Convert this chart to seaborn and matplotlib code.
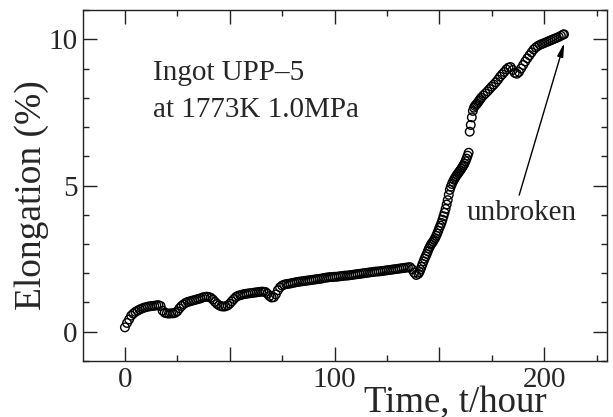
import numpy as np
import pandas as pd
import matplotlib
matplotlib.use('Agg')
import matplotlib.pyplot as plt
from matplotlib.ticker import MultipleLocator, FuncFormatter
import seaborn as sns

# creep test data (time in hours, elongation in %)
hours = [0, 1, 2, 3, 4, 5, 6, 7, 8, 9,
         10, 11, 12, 13, 14, 15, 16, 17, 18, 19,
         20, 21, 22, 23, 24, 25, 26, 27, 28, 29,
         30, 31, 32, 33, 34, 35, 36, 37, 38, 39,
         40, 41, 42, 43, 44, 45, 46, 47, 48, 49,
         50, 51, 52, 53, 54, 55, 56, 57, 58, 59,
         60, 61, 62, 63, 64, 65, 66, 67, 68, 69,
         70, 71, 72, 73, 74, 75, 76, 77, 78, 79,
         80, 81, 82, 83, 84, 85, 86, 87, 88, 89,
         90, 91, 92, 93, 94, 95, 96, 97, 98, 99,
         100, 101, 102, 103, 104, 105, 106, 107, 108, 109,
         110, 111, 112, 113, 114, 115, 116, 117, 118, 119,
         120, 121, 122, 123, 124, 125, 126, 127, 128, 129,
         130, 131, 132, 133, 134, 135, 136, 137, 138, 139,
         140, 140.5, 141, 141.5, 142, 142.5, 143, 143.5, 144, 144.5,
         145, 145.5, 146, 146.5, 147, 147.5, 148, 148.5, 149, 149.5,
         150, 150.5, 151, 151.5, 152, 152.5, 153, 153.5, 154, 154.5,
         155, 155.5, 156, 156.5, 157, 157.5, 158, 158.5, 159, 159.5,
         160, 160.5, 161, 161.5, 162, 162.5, 163, 163.5, 164, 164.5,
         165, 165.5, 166, 166.5, 167, 167.5, 168, 168.5, 169, 169.5,
         170, 171, 172, 173, 174, 175, 176, 177, 178, 179,
         180, 181, 182, 183, 184, 185, 186, 187, 188, 189,
         190, 191, 192, 193, 194, 195, 196, 197, 198, 199,
         200, 201, 202, 203, 204, 205, 206, 207, 208, 209, 209.5]

elongation = [0.15, 0.30, 0.42, 0.55, 0.62, 0.68, 0.72, 0.76, 0.79, 0.82,
              0.84, 0.86, 0.87, 0.88, 0.89, 0.90, 0.91, 0.88, 0.72, 0.65,
              0.63, 0.62, 0.63, 0.63, 0.65, 0.70, 0.80, 0.88, 0.94, 0.99,
              1.02, 1.04, 1.06, 1.08, 1.10, 1.12, 1.14, 1.17, 1.19, 1.20,
              1.19, 1.16, 1.10, 1.02, 0.95, 0.90, 0.87, 0.86, 0.87, 0.90,
              0.96, 1.04, 1.12, 1.19, 1.23, 1.25, 1.27, 1.29, 1.30, 1.31,
              1.32, 1.33, 1.34, 1.35, 1.36, 1.37, 1.37, 1.36, 1.30, 1.22,
              1.17, 1.18, 1.28, 1.42, 1.52, 1.58, 1.61, 1.63, 1.64, 1.65,
              1.67, 1.68, 1.70, 1.71, 1.72, 1.73, 1.74, 1.75, 1.76, 1.77,
              1.78, 1.79, 1.80, 1.81, 1.82, 1.84, 1.85, 1.86, 1.87, 1.87,
              1.88, 1.88, 1.89, 1.90, 1.91, 1.92, 1.92, 1.93, 1.94, 1.95,
              1.96, 1.97, 1.98, 1.99, 2.00, 2.01, 2.02, 2.03, 2.04, 2.05,
              2.06, 2.06, 2.07, 2.08, 2.09, 2.10, 2.11, 2.12, 2.13, 2.14,
              2.15, 2.16, 2.17, 2.18, 2.19, 2.20, 2.21, 2.14, 2.02, 1.94,
              1.98, 2.04, 2.12, 2.22, 2.32, 2.41, 2.50, 2.58, 2.66, 2.75,
              2.84, 2.91, 2.98, 3.03, 3.08, 3.14, 3.20, 3.28, 3.36, 3.45,
              3.55, 3.63, 3.72, 3.83, 3.95, 4.07, 4.20, 4.35, 4.50, 4.68,
              4.85, 4.96, 5.05, 5.13, 5.20, 5.26, 5.32, 5.37, 5.42, 5.47,
              5.52, 5.57, 5.63, 5.69, 5.75, 5.83, 5.92, 6.02, 6.12, 6.84,
              7.07, 7.33, 7.55, 7.66, 7.72, 7.76, 7.80, 7.85, 7.90, 7.95,
              8.00, 8.08, 8.15, 8.22, 8.30, 8.38, 8.45, 8.53, 8.62, 8.72,
              8.80, 8.88, 8.97, 9.03, 9.05, 8.95, 8.85, 8.82, 8.88, 9.00,
              9.12, 9.24, 9.35, 9.45, 9.55, 9.65, 9.72, 9.77, 9.81, 9.84,
              9.87, 9.90, 9.93, 9.96, 9.99, 10.02, 10.05, 10.08, 10.12, 10.16, 10.17]

df = pd.DataFrame({'hours': hours, 'elongation': elongation})

sns.set_style('ticks')
plt.rcParams['font.family'] = ['Liberation Serif', 'DejaVu Serif']

fig = plt.figure(figsize=(6.13, 4.17), dpi=100)
ax = fig.add_axes([0.1354, 0.1343, 0.8548, 0.8417])

sns.scatterplot(data=df, x='hours', y='elongation', ax=ax, marker='o', s=38,
                facecolors='none', edgecolor='black', linewidth=1.0)

ax.set_xlim(-20, 230)
ax.set_ylim(-1, 11)

# ticks: inward on all four sides, labels only every 100 h
ax.xaxis.set_major_locator(MultipleLocator(50))
ax.xaxis.set_minor_locator(MultipleLocator(25))
ax.xaxis.set_major_formatter(FuncFormatter(lambda v, p: f'{int(v)}' if v % 100 == 0 else ''))
ax.yaxis.set_major_locator(MultipleLocator(5))
ax.yaxis.set_minor_locator(MultipleLocator(1))
ax.tick_params(which='both', direction='in', top=True, right=True, width=1, color='#222222')
ax.tick_params(which='major', length=10, labelsize=21, pad=4)
ax.tick_params(which='minor', length=4)
for sp in ax.spines.values():
    sp.set_linewidth(1.0)
    sp.set_color('#222222')

ax.set_xlabel('Time, t/hour', fontsize=26.5)
ax.xaxis.set_label_coords(0.71, -0.071)
ax.set_ylabel('Elongation (%)', fontsize=27)
ax.yaxis.set_label_coords(-0.064, 0.473)

ax.text(13.5, 8.61, 'Ingot UPP\u20135', fontsize=21)
ax.text(13.5, 7.34, 'at 1773K 1.0MPa', fontsize=21)
ax.text(163.2, 3.82, 'unbroken', fontsize=21)
ax.annotate('', xy=(209.6, 9.87), xytext=(188.1, 4.67),
            arrowprops=dict(arrowstyle='-|>,head_length=0.8,head_width=0.18',
                            color='black', lw=1.0, shrinkA=0, shrinkB=0))

fig.savefig('out.png', dpi=100)
